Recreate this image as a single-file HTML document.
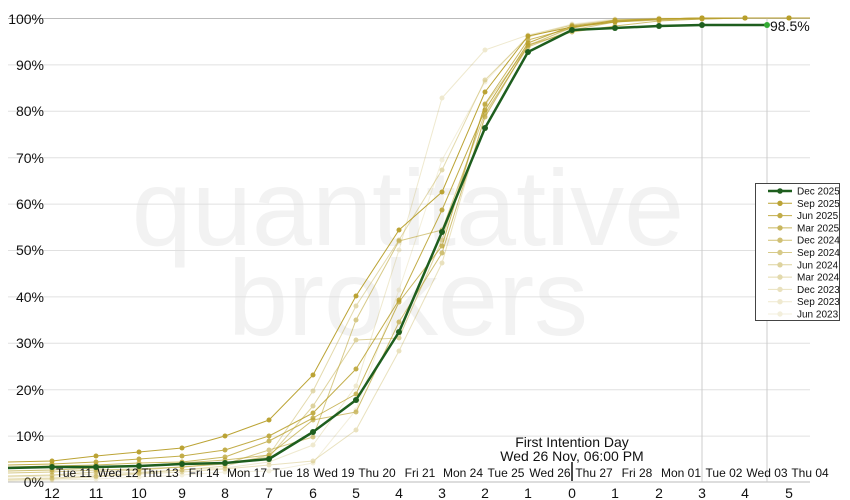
<!DOCTYPE html>
<html><head><meta charset="utf-8"><style>body{margin:0;background:#fff}svg{display:block;font-family:"Liberation Sans",sans-serif}</style></head><body>
<svg width="850" height="500" viewBox="0 0 850 500">
<defs>
<marker id="mg" viewBox="0 0 6 6" refX="3" refY="3" markerWidth="5" markerHeight="5" markerUnits="userSpaceOnUse"><circle cx="3" cy="3" r="3" fill="#b89f2a"/></marker>
<marker id="md" viewBox="0 0 6 6" refX="3" refY="3" markerWidth="6" markerHeight="6" markerUnits="userSpaceOnUse"><circle cx="3" cy="3" r="3" fill="#1e5e1e"/></marker>
<marker id="me" viewBox="0 0 6 6" refX="3" refY="3" markerWidth="6" markerHeight="6" markerUnits="userSpaceOnUse"><circle cx="3" cy="3" r="3" fill="#33aa33"/></marker>
</defs>
<g fill="#f2f2f2" font-size="108" text-anchor="middle"><text x="408" y="245">quantitative</text><text x="408" y="335">brokers</text></g>
<g stroke="#e0e0e0" stroke-width="1">
<line x1="8" x2="810" y1="64.9" y2="64.9"/><line x1="8" x2="810" y1="111.3" y2="111.3"/><line x1="8" x2="810" y1="157.7" y2="157.7"/><line x1="8" x2="810" y1="204.1" y2="204.1"/><line x1="8" x2="810" y1="250.5" y2="250.5"/><line x1="8" x2="810" y1="296.9" y2="296.9"/><line x1="8" x2="810" y1="343.3" y2="343.3"/><line x1="8" x2="810" y1="389.7" y2="389.7"/><line x1="8" x2="810" y1="436.1" y2="436.1"/>
</g>
<line x1="8" x2="810" y1="18.5" y2="18.5" stroke="#bbb"/>
<line x1="8" x2="810" y1="482" y2="482" stroke="#bbb"/>
<line x1="702" x2="702" y1="18" y2="482" stroke="#ccc"/>
<line x1="767" x2="767" y1="18" y2="482" stroke="#ccc"/>
<g font-size="14" fill="#111" text-anchor="end"><text x="44" y="24">100%</text><text x="44" y="70">90%</text><text x="44" y="116">80%</text><text x="44" y="163">70%</text><text x="44" y="209">60%</text><text x="44" y="255">50%</text><text x="44" y="302">40%</text><text x="44" y="348">30%</text><text x="44" y="395">20%</text><text x="44" y="441">10%</text><text x="44" y="487">0%</text></g>
<g fill="none" stroke="#b89f2a" stroke-width="1" stroke-linejoin="round" marker-mid="url(#mg)">
<g opacity="0.16"><polyline points="8,481 52,480 96,479 139,477 182,475 225,472 269,471 313,463 356,410 399,290 442,160 485,82 528,36 572,24 615,19 659,18 702,18 745,18 789,18 810,18"/></g>
<g opacity="0.22"><polyline points="8,477 52,476 96,474 139,472 182,470 225,468 269,462 313,445 356,386 399,250 442,98 485,50 528,35 572,25 615,20 659,19 702,18 745,18 789,18 810,18"/></g>
<g opacity="0.3"><polyline points="8,480 52,479 96,477 139,474 182,472 225,469 269,465 313,461 356,430 399,351 442,263 485,115 528,45 572,28 615,22 659,20 702,19 745,18 789,18 810,18"/></g>
<g opacity="0.38"><polyline points="8,479 52,478 96,476 139,473 182,470 225,466 269,455 313,391 356,306 399,240 442,170 485,80 528,37 572,25 615,20 659,19 702,18 745,18 789,18 810,18"/></g>
<g opacity="0.45"><polyline points="8,476 52,475 96,472 139,470 182,467 225,463 269,457 313,406 356,340 399,338 442,240 485,105 528,46 572,27 615,21 659,19 702,18 745,18 789,18 810,18"/></g>
<g opacity="0.55"><polyline points="8,473 52,472 96,470 139,469 182,467 225,464 269,450 313,437 356,320 399,241 442,230 485,113 528,47 572,30 615,22 659,20 702,19 745,18 789,18 810,18"/></g>
<g opacity="0.65"><polyline points="8,471 52,470 96,468 139,466 182,463 225,460 269,455 313,420 356,412 399,322 442,253 485,117 528,45 572,32 615,26 659,21 702,19 745,18 789,18 810,18"/></g>
<g opacity="0.75"><polyline points="8,467 52,466 96,465 139,463 182,462 225,457 269,441 313,418 356,394 399,302 442,246 485,104 528,40 572,28 615,20 659,19 702,18 745,18 789,18 810,18"/></g>
<g opacity="0.85"><polyline points="8,465 52,464 96,462 139,459 182,456 225,450 269,436 313,413 356,369 399,300 442,210 485,110 528,43 572,26 615,21 659,19 702,18 745,18 789,18 810,18"/></g>
<g opacity="0.95"><polyline points="8,462 52,461 96,456 139,452 182,448 225,436 269,420 313,375 356,296 399,230 442,192 485,92 528,36 572,27 615,22 659,19 702,18 745,18 789,18 810,18"/></g>
</g>
<polyline points="8,468 52,467 96,467 139,466 182,464 225,463 269,459 313,432 356,400 399,332 442,232 485,128 528,52 572,30 615,28 659,26 702,25 767,25" fill="none" stroke="#1e5e1e" stroke-width="2.5" stroke-linejoin="round" marker-mid="url(#md)" marker-end="url(#me)"/>
<g font-size="12" fill="#111" text-anchor="middle">
<text x="74" y="477">Tue 11</text><text x="118" y="477">Wed 12</text><text x="160" y="477">Thu 13</text><text x="204" y="477">Fri 14</text><text x="247" y="477">Mon 17</text><text x="291" y="477">Tue 18</text><text x="334" y="477">Wed 19</text><text x="377" y="477">Thu 20</text><text x="420" y="477">Fri 21</text><text x="463" y="477">Mon 24</text><text x="506" y="477">Tue 25</text><text x="550" y="477">Wed 26</text><text x="594" y="477">Thu 27</text><text x="637" y="477">Fri 28</text><text x="681" y="477">Mon 01</text><text x="724" y="477">Tue 02</text><text x="767" y="477">Wed 03</text><text x="810" y="477">Thu 04</text>
</g>
<line x1="572" x2="572" y1="462" y2="481" stroke="#111" stroke-width="1.5"/>
<g font-size="14" fill="#111" text-anchor="middle"><text x="572" y="447">First Intention Day</text><text x="572" y="461">Wed 26 Nov, 06:00 PM</text></g>
<g font-size="14" fill="#111" text-anchor="middle">
<text x="52" y="498">12</text><text x="96" y="498">11</text><text x="139" y="498">10</text><text x="182" y="498">9</text><text x="225" y="498">8</text><text x="269" y="498">7</text><text x="313" y="498">6</text><text x="356" y="498">5</text><text x="399" y="498">4</text><text x="442" y="498">3</text><text x="485" y="498">2</text><text x="528" y="498">1</text><text x="572" y="498">0</text><text x="615" y="498">1</text><text x="659" y="498">2</text><text x="702" y="498">3</text><text x="745" y="498">4</text><text x="789" y="498">5</text>
</g>
<text x="770" y="31" font-size="14" fill="#111">98.5%</text>
<rect x="755.5" y="183.5" width="84" height="137" fill="#fff" stroke="#444"/>
<line x1="768" x2="792" y1="191" y2="191" stroke="#1e5e1e" stroke-width="2.5"/><circle cx="780" cy="191" r="2.8" fill="#1e5e1e"/>
<g stroke="#b89f2a">
<g opacity="0.95"><line x1="768" x2="792" y1="203.3" y2="203.3"/><circle cx="780" cy="203.3" r="2.2" fill="#b89f2a"/></g>
<g opacity="0.85"><line x1="768" x2="792" y1="215.6" y2="215.6"/><circle cx="780" cy="215.6" r="2.2" fill="#b89f2a"/></g>
<g opacity="0.75"><line x1="768" x2="792" y1="227.9" y2="227.9"/><circle cx="780" cy="227.9" r="2.2" fill="#b89f2a"/></g>
<g opacity="0.65"><line x1="768" x2="792" y1="240.2" y2="240.2"/><circle cx="780" cy="240.2" r="2.2" fill="#b89f2a"/></g>
<g opacity="0.55"><line x1="768" x2="792" y1="252.5" y2="252.5"/><circle cx="780" cy="252.5" r="2.2" fill="#b89f2a"/></g>
<g opacity="0.45"><line x1="768" x2="792" y1="264.8" y2="264.8"/><circle cx="780" cy="264.8" r="2.2" fill="#b89f2a"/></g>
<g opacity="0.38"><line x1="768" x2="792" y1="277.1" y2="277.1"/><circle cx="780" cy="277.1" r="2.2" fill="#b89f2a"/></g>
<g opacity="0.3"><line x1="768" x2="792" y1="289.4" y2="289.4"/><circle cx="780" cy="289.4" r="2.2" fill="#b89f2a"/></g>
<g opacity="0.22"><line x1="768" x2="792" y1="301.7" y2="301.7"/><circle cx="780" cy="301.7" r="2.2" fill="#b89f2a"/></g>
<g opacity="0.16"><line x1="768" x2="792" y1="314" y2="314"/><circle cx="780" cy="314" r="2.2" fill="#b89f2a"/></g>
</g>
<g font-size="10" fill="#111">
<text x="797" y="194.5">Dec 2025</text><text x="797" y="206.8">Sep 2025</text><text x="797" y="219.1">Jun 2025</text><text x="797" y="231.4">Mar 2025</text><text x="797" y="243.7">Dec 2024</text><text x="797" y="256">Sep 2024</text><text x="797" y="268.3">Jun 2024</text><text x="797" y="280.6">Mar 2024</text><text x="797" y="292.9">Dec 2023</text><text x="797" y="305.2">Sep 2023</text><text x="797" y="317.5">Jun 2023</text>
</g>
</svg>
</body></html>
